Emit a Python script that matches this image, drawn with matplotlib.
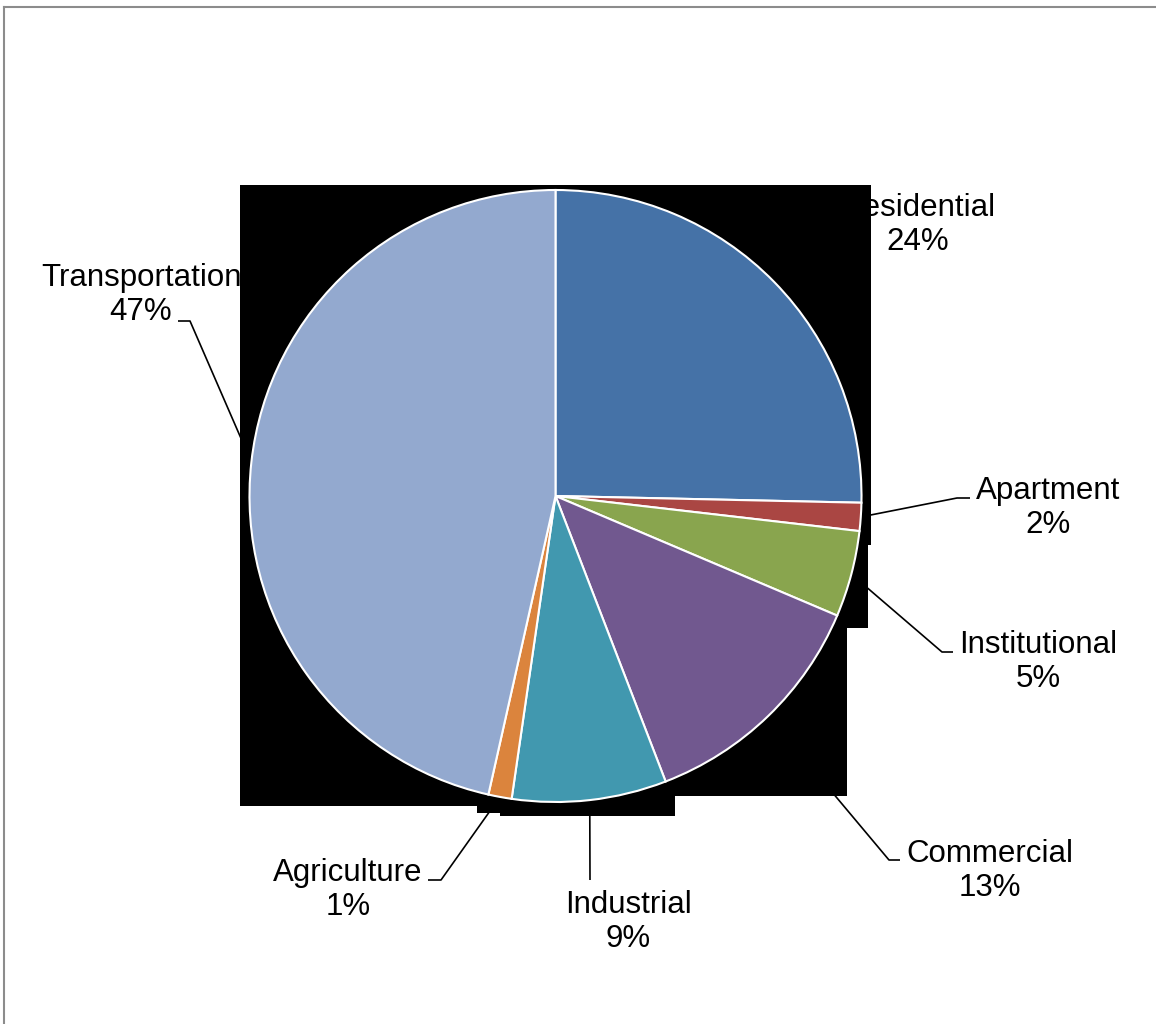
import numpy as np
import matplotlib.pyplot as plt
from matplotlib.patches import Polygon

plt.rcParams['font.family'] = ['Liberation Sans', 'DejaVu Sans']

# data
sectors = ['Residential', 'Apartment', 'Institutional', 'Commercial',
           'Industrial', 'Agriculture', 'Transportation']
shares = [25.35, 1.48, 4.56, 12.75, 8.15, 1.23, 46.48]   # slice sizes
pct_labels = ['24%', '2%', '5%', '13%', '9%', '1%', '47%']  # printed labels
colors = ['#4572A7', '#AA4643', '#89A54E', '#71588F',
          '#4198AF', '#DB843D', '#93A9CF']

W, H = 1156, 1024

# layout, in pixels from top-left
label_pos = [(918, 225), (1048, 508), (1038, 662), (990, 871),
             (628, 922), (348, 890), (141, 295)]
# elbow point and end point of each leader line (None = no line drawn)
leaders = [None,
           [(957, 498), (970, 498)],
           [(942, 652), (953, 652)],
           [(889, 860), (900, 860)],
           [(590, 880)],
           [(441, 880), (428, 880)],
           [(190, 321), (178, 321)]]
# black backdrop left behind the pie in the original export
backdrop = [(240, 185), (871, 185), (871, 545), (868, 545), (868, 628),
            (847, 628), (847, 796), (675, 796), (675, 816), (500, 816),
            (500, 813), (477, 813), (477, 806), (240, 806)]


def px(x, y):
    return x, H - y


fig = plt.figure(figsize=(W / 100, H / 100), dpi=100)
ax = fig.add_axes([0, 0, 1, 1])

cx, cy = px(555.5, 496)
r = 306
wedges, _ = ax.pie(shares, colors=colors, startangle=90, counterclock=False,
                   center=(cx, cy), radius=r, frame=True,
                   wedgeprops=dict(edgecolor='white', linewidth=1.5))
for w in wedges:
    w.set_zorder(3)

ax.add_patch(Polygon([px(x, y) for x, y in backdrop], closed=True,
                     facecolor='black', edgecolor='none', zorder=2))

for i, w in enumerate(wedges):
    tx, ty = px(*label_pos[i])
    ax.text(tx, ty, sectors[i] + '\n' + pct_labels[i], ha='center', va='center',
            multialignment='center', fontsize=22.5, color='black', zorder=1,
            linespacing=1.2)
    if leaders[i] is None:
        continue
    mid = np.deg2rad((w.theta1 + w.theta2) / 2)
    xs = [cx + r * np.cos(mid)]
    ys = [cy + r * np.sin(mid)]
    for x, y in leaders[i]:
        X, Y = px(x, y)
        xs.append(X)
        ys.append(Y)
    ax.plot(xs, ys, color='black', lw=1.2, zorder=1, solid_capstyle='butt')

# grey frame (top and left edges only)
ax.plot([4, 4], [0, H - 7], color='#8c8c8c', lw=1.5, zorder=1)
ax.plot([4, W], [H - 7, H - 7], color='#8c8c8c', lw=1.5, zorder=1)

ax.set_xlim(0, W)
ax.set_ylim(0, H)
ax.set_aspect('equal')
ax.axis('off')

fig.savefig('out.png', dpi=100)
